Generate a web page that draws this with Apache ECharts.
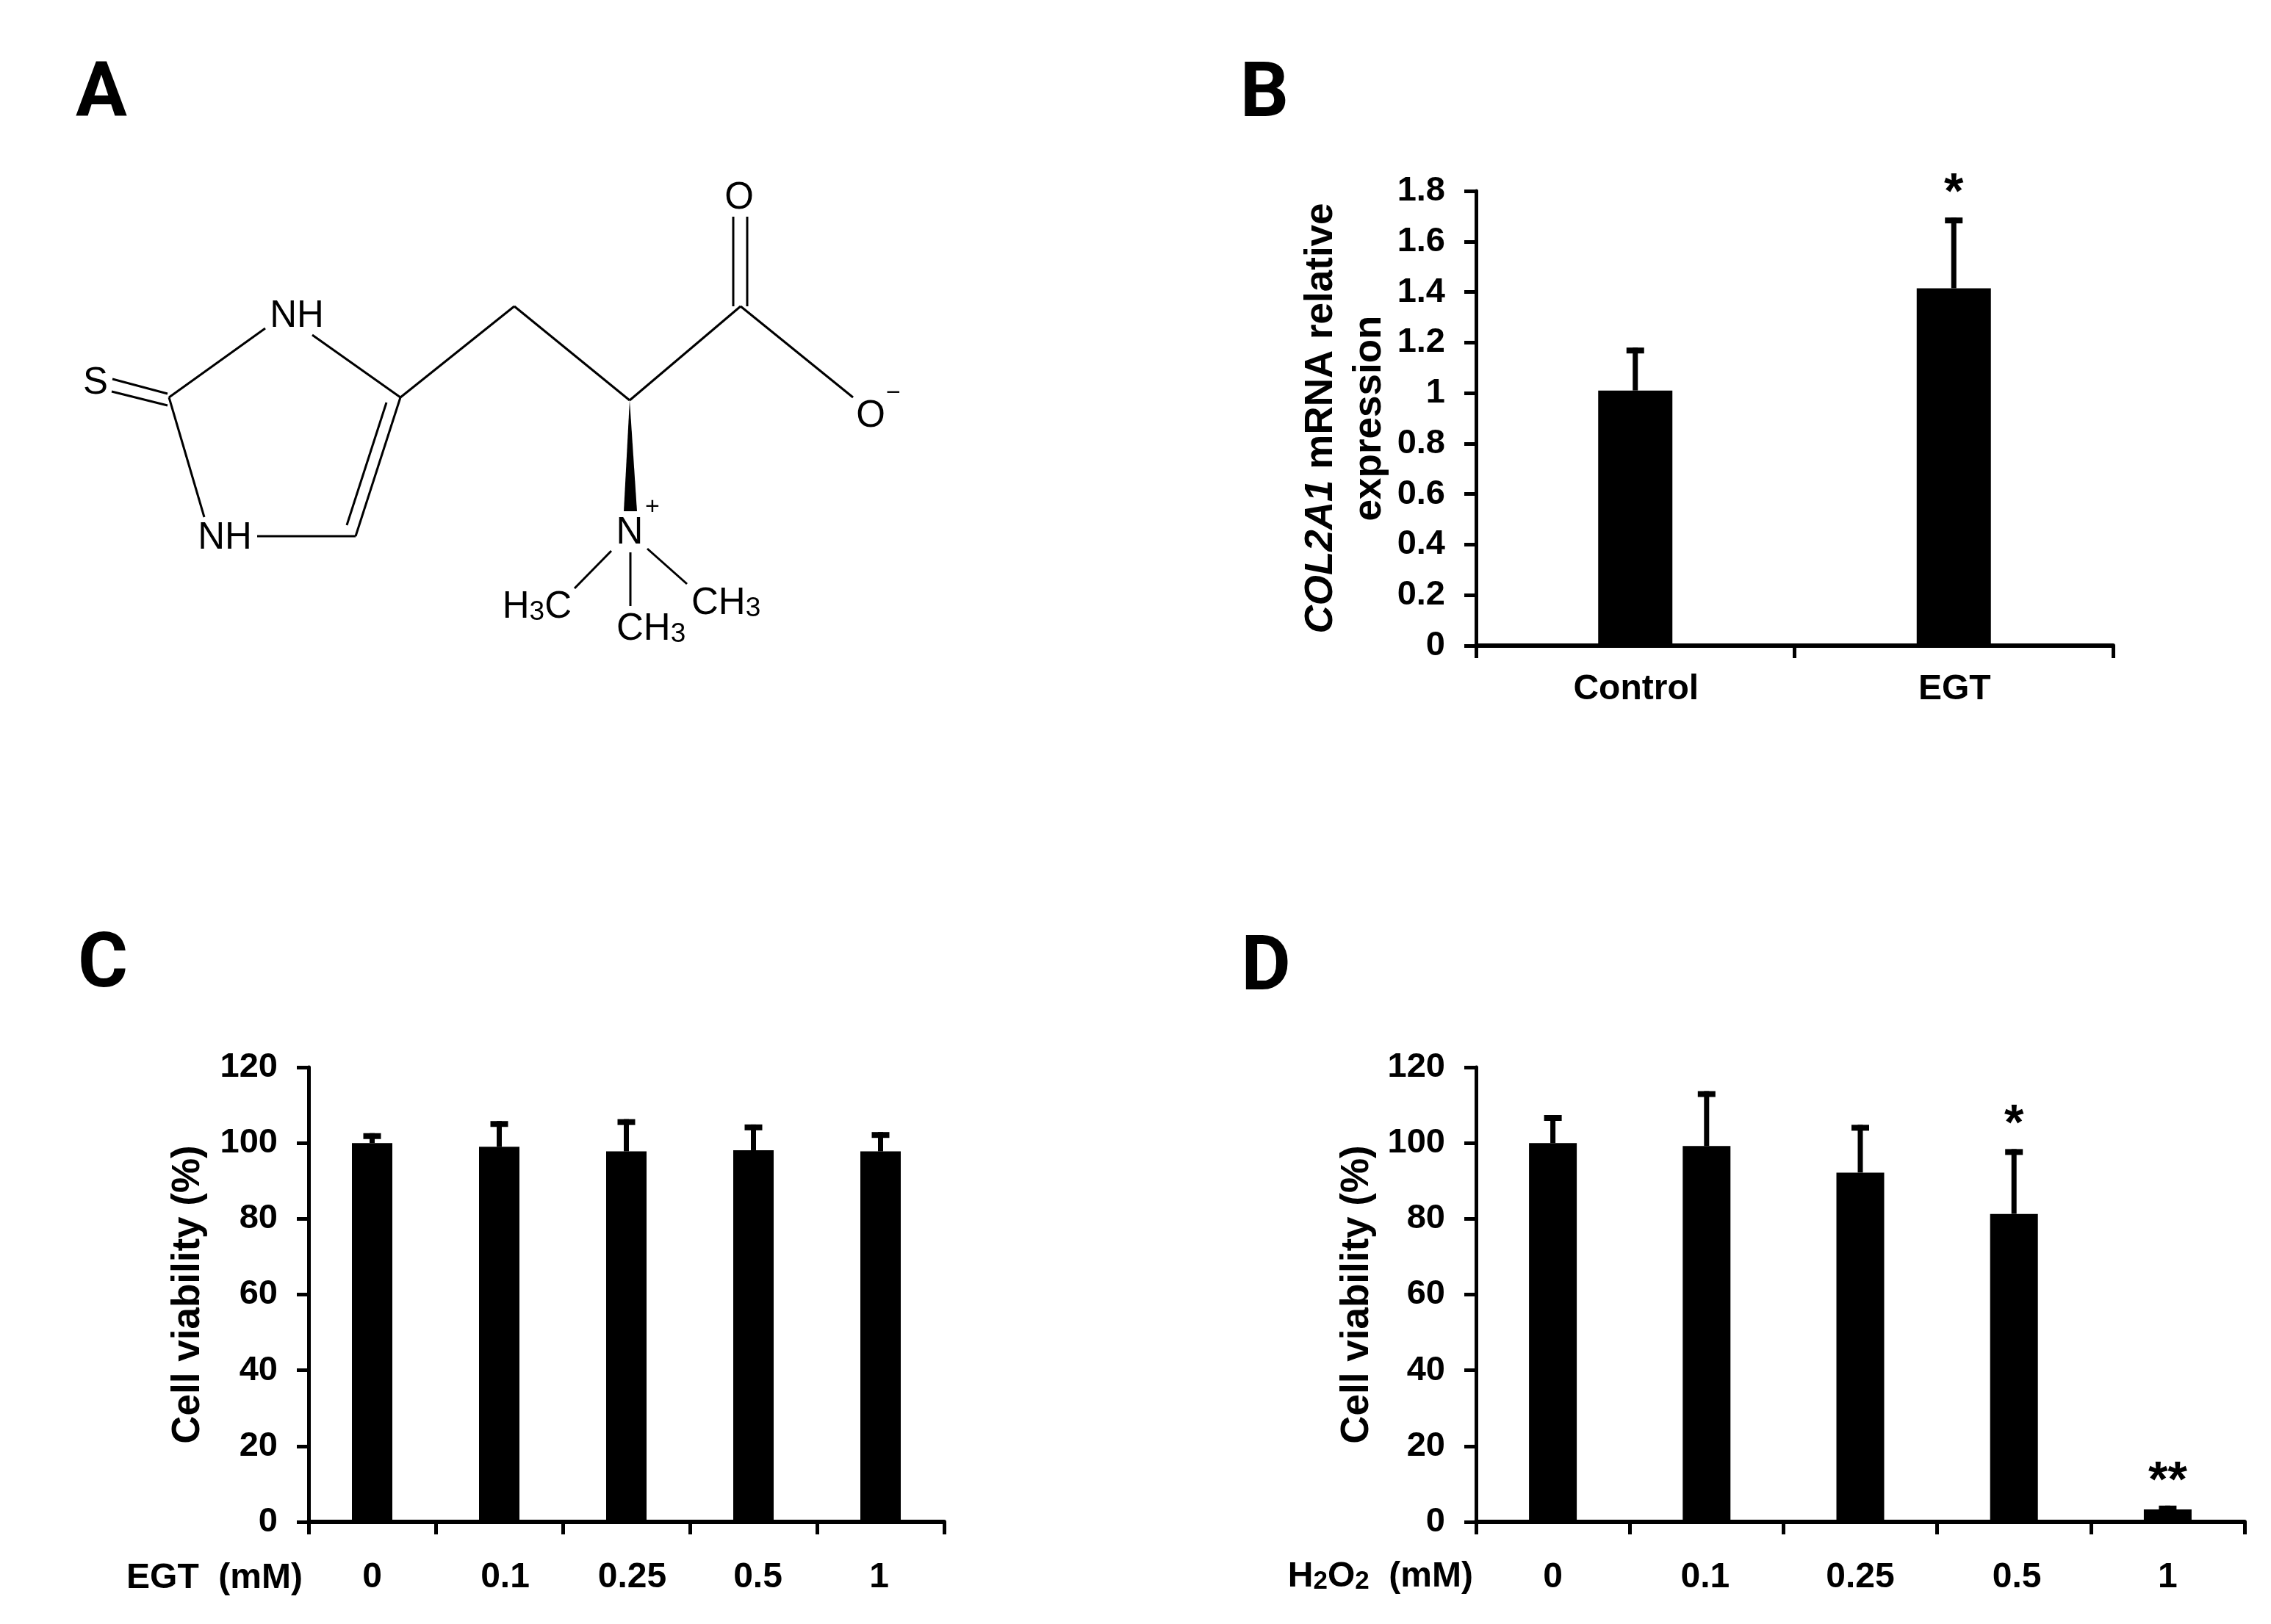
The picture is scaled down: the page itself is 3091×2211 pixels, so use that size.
<!DOCTYPE html>
<html><head><meta charset="utf-8">
<style>html,body{margin:0;padding:0;background:#fff}#c{width:3091px;height:2211px}</style>
<script src="https://cdn.jsdelivr.net/npm/echarts@6/dist/echarts.min.js"></script>
</head><body><div id="c"></div>
<script>
// Panel B
const bCategories = ['Control', 'EGT'];
const bValues = [1.01, 1.415];
const bErrTops = [1.18, 1.695];
const bStars = ['', '*'];
const bTicks = {min: 0, max: 1.8, interval: 0.2};
const bLabelNudge = [2, 2];
// Panel C
const cCategories = ['0', '0.1', '0.25', '0.5', '1'];
const cValues = [100, 99, 97.8, 98.1, 97.8];
const cErrTops = [102.6, 105.8, 106.3, 104.9, 102.9];
const cStars = ['', '', '', '', ''];
const cLabelNudge = [0, 16, 16, 12, -4];
// Panel D
const dCategories = ['0', '0.1', '0.25', '0.5', '1'];
const dValues = [100, 99.2, 92.2, 81.3, 3.3];
const dErrTops = [107.4, 113.7, 104.8, 98.4, 4.3];
const dStars = ['', '', '', '*', '**'];
const dLabelNudge = [0, -4, 0, 8, 0];
const viabilityTicks = {min: 0, max: 120, interval: 20};

const FONT = '"Liberation Sans", Arial, sans-serif';
const panels = [
  {cats: bCategories, vals: bValues, errs: bErrTops, stars: bStars, ticks: bTicks, nudge: bLabelNudge,
   grid: {left: 2009, top: 260, width: 867, height: 619}, barWidth: 101, xMargin: 36, nameGap: 112,
   name: '{i|COL2A1}{b| mRNA relative}\n{b|expression}'},
  {cats: cCategories, vals: cValues, errs: cErrTops, stars: cStars, ticks: viabilityTicks, nudge: cLabelNudge,
   grid: {left: 420, top: 1453, width: 865, height: 619}, barWidth: 55, xMargin: 52, nameGap: 131,
   name: '{b|Cell viability (%)}'},
  {cats: dCategories, vals: dValues, errs: dErrTops, stars: dStars, ticks: viabilityTicks, nudge: dLabelNudge,
   grid: {left: 2009, top: 1453, width: 1046, height: 619}, barWidth: 65, xMargin: 52, nameGap: 129,
   name: '{b|Cell viability (%)}'}
];

const grid = [], xAxis = [], yAxis = [], series = [];
panels.forEach((p, k) => {
  grid.push(Object.assign({containLabel: false}, p.grid));
  xAxis.push({type: 'category', gridIndex: k, boundaryGap: true,
    data: p.cats.map((c, i) => ({value: c, textStyle: {padding: p.nudge[i] >= 0 ? [0, 0, 0, p.nudge[i]] : [0, -p.nudge[i], 0, 0]}})),
    axisLine: {lineStyle: {color: '#000', width: 6}},
    axisTick: {show: true, alignWithLabel: false, length: 17, lineStyle: {color: '#000', width: 5}},
    axisLabel: {interval: 0, color: '#000', fontFamily: FONT, fontWeight: 'bold', fontSize: 48, margin: p.xMargin},
    splitLine: {show: false}});
  yAxis.push({type: 'value', gridIndex: k, min: p.ticks.min, max: p.ticks.max, interval: p.ticks.interval,
    axisLine: {show: true, lineStyle: {color: '#000', width: 5}},
    axisTick: {show: true, length: 16, lineStyle: {color: '#000', width: 5}},
    axisLabel: {color: '#000', fontFamily: FONT, fontWeight: 'bold', fontSize: 47, margin: 42},
    splitLine: {show: false},
    name: p.name, nameLocation: 'middle', nameRotate: 90, nameGap: p.nameGap,
    nameTextStyle: {color: '#000', lineHeight: 66,
      rich: {
        i: {fontFamily: FONT, fontWeight: 'bold', fontStyle: 'italic', fontSize: 53, color: '#000', lineHeight: 66},
        b: {fontFamily: FONT, fontWeight: 'bold', fontSize: 53, color: '#000', lineHeight: 66}
      }}});
  series.push({type: 'bar', xAxisIndex: k, yAxisIndex: k, data: p.vals, barWidth: p.barWidth,
    itemStyle: {color: '#000'}, silent: true, animation: false, z: 2});
  series.push({type: 'custom', xAxisIndex: k, yAxisIndex: k, clip: false, silent: true, animation: false, z: 3,
    data: p.errs.map((e, i) => [i, e, p.vals[i]]),
    encode: {x: 0, y: 1},
    renderItem: (params, api) => {
      const top = api.coord([api.value(0), api.value(1)]);
      const base = api.coord([api.value(0), api.value(2)]);
      const kids = [
        {type: 'rect', shape: {x: top[0] - 3.5, y: top[1], width: 7, height: base[1] - top[1]}, style: {fill: '#000'}},
        {type: 'rect', shape: {x: top[0] - 12, y: top[1], width: 24, height: 8}, style: {fill: '#000'}}
      ];
      const star = p.stars[params.dataIndex];
      if (star) kids.push({type: 'text', style: {text: star, x: top[0], y: top[1] - 32,
        font: 'bold 68px ' + FONT, fill: '#000', textAlign: 'center', textVerticalAlign: 'middle'}});
      return {type: 'group', children: kids};
    }});
});

// Panel A: the ergothioneine structural formula, a drawing rather than data
const bondSegments = [
  [153,516,228,536],[152,533,228,552],[230,541,361,447],[425,456,545,541],
  [545,541,484,730],[526,548,472,715],[484,730,350,730],[230,541,278,704],
  [545,541,700,417],[700,417,857,545],[857,545,1008,417],
  [998,295,998,417],[1017,295,1017,417],[1008,417,1161,541],
  [832,750,782,801],[858,752,858,825],[881,747,935,795]
];
const atomLabels = [
  ['{a|S}',130,519,'center'],['{a|NH}',404,428,'center'],['{a|NH}',306,730,'center'],['{a|O}',1006,267,'center'],
  ['{a|O}',1185,564,'center'],['{a|N}',857,723,'center'],['{a|H}{s|3}{a|C}',778,824,'right'],
  ['{a|CH}{s|3}',839,854,'left'],['{a|CH}{s|3}',941,819,'left']
];
const chargeLabels = [['\u2212',1216,536],['+',888,691]];
const panelLetters = [['A',138,132],['B',1721,132],['C',140,1317],['D',1723,1321]];
const axisPrefixes = [['{b|EGT  (mM)}',412,2146],['{b|H}{u|2}{b|O}{u|2}{b|  (mM)}',2005,2144]];

const graphics = [];
bondSegments.forEach(s => graphics.push({type: 'line', silent: true,
  shape: {x1: s[0], y1: s[1], x2: s[2], y2: s[3]}, style: {stroke: '#000', lineWidth: 3}}));
graphics.push({type: 'polygon', silent: true, shape: {points: [[857,545],[849,696],[867,696]]}, style: {fill: '#000'}});
atomLabels.forEach(a => graphics.push({type: 'text', silent: true, style: {text: a[0], x: a[1], y: a[2],
  fill: '#000', align: a[3], verticalAlign: 'middle', rich: {
    a: {font: '51px ' + FONT, fill: '#000', lineHeight: 56, verticalAlign: 'bottom'},
    s: {font: '37px ' + FONT, fill: '#000', lineHeight: 28, verticalAlign: 'bottom'}
  }}}));
chargeLabels.forEach(a => graphics.push({type: 'text', silent: true, style: {text: a[0], x: a[1], y: a[2],
  font: '34px ' + FONT, fill: '#000', textAlign: 'center', textVerticalAlign: 'middle'}}));
panelLetters.forEach(a => graphics.push({type: 'text', silent: true, style: {text: a[0], x: a[1], y: a[2],
  font: 'bold 104px "Liberation Sans Narrow", Roboto, sans-serif', fill: '#000', textAlign: 'center', textVerticalAlign: 'middle'}}));
axisPrefixes.forEach(a => graphics.push({type: 'text', silent: true, style: {text: a[0], x: a[1], y: a[2],
  fill: '#000', align: 'right', verticalAlign: 'middle', rich: {
    b: {font: 'bold 48px ' + FONT, fill: '#000', lineHeight: 54, verticalAlign: 'bottom'},
    u: {font: 'bold 35px ' + FONT, fill: '#000', lineHeight: 26, verticalAlign: 'bottom'}
  }}}));

const chart = echarts.init(document.getElementById('c'), null, {renderer: 'canvas', width: 3091, height: 2211});
chart.setOption({backgroundColor: '#fff', animation: false, grid, xAxis, yAxis, series, graphic: {elements: graphics}});
</script></body></html>
